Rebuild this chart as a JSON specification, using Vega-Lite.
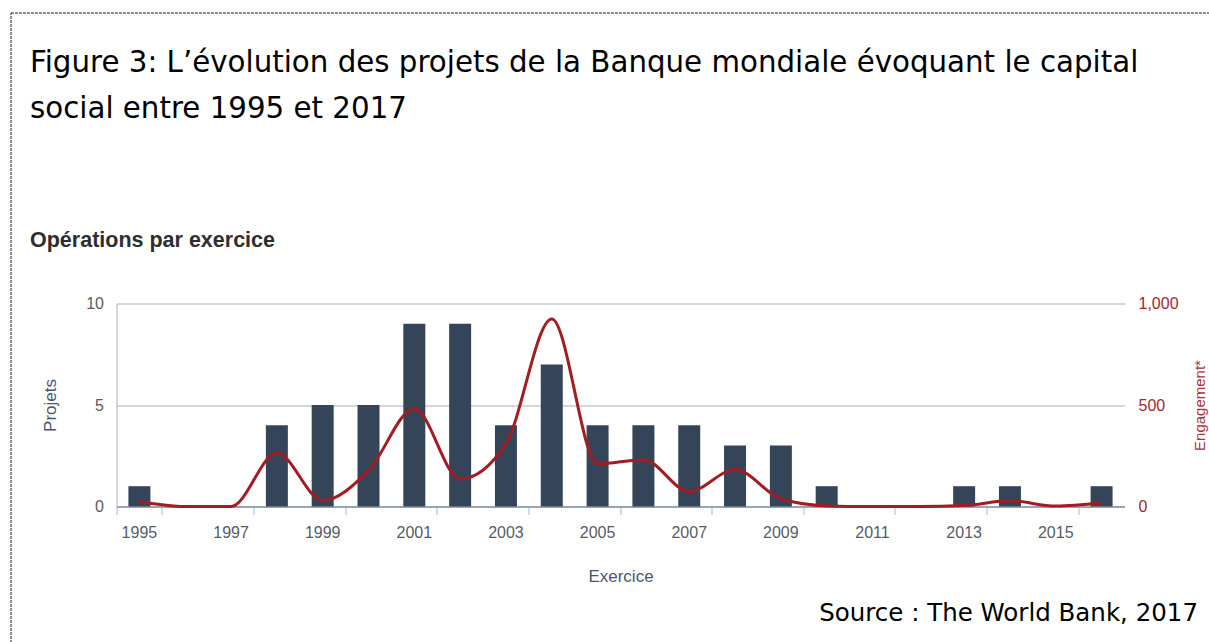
{
  "$schema": "https://vega.github.io/schema/vega-lite/v6.json",
  "autosize": {"type": "none"},
  "padding": {"left": 10.5, "top": 12.5, "right": 0, "bottom": 0},
  "width": 1215,
  "height": 650,
  "background": "#ffffff",
  "title": {
    "text": ["Figure 3: L’évolution des projets de la Banque mondiale évoquant le capital", "social entre 1995 et 2017"],
    "subtitle": "Opérations par exercice",
    "anchor": "start",
    "frame": "group",
    "orient": "top",
    "offset": -238.5,
    "dx": 19.5,
    "font": "DejaVu Sans",
    "fontSize": 29.3,
    "fontWeight": "normal",
    "color": "#000000",
    "lineHeight": 46,
    "subtitleFont": "Liberation Sans",
    "subtitleFontSize": 21.5,
    "subtitleFontWeight": "bold",
    "subtitleColor": "#2e2e2e",
    "subtitlePadding": 105
  },
  "data": {
    "values": [
      {"annee": 1995, "projets": 1, "engagement": 25},
      {"annee": 1996, "projets": 0, "engagement": 0},
      {"annee": 1997, "projets": 0, "engagement": 0},
      {"annee": 1998, "projets": 4, "engagement": 263},
      {"annee": 1999, "projets": 5, "engagement": 30},
      {"annee": 2000, "projets": 5, "engagement": 177},
      {"annee": 2001, "projets": 9, "engagement": 481},
      {"annee": 2002, "projets": 9, "engagement": 136},
      {"annee": 2003, "projets": 4, "engagement": 310},
      {"annee": 2004, "projets": 7, "engagement": 924},
      {"annee": 2005, "projets": 4, "engagement": 210},
      {"annee": 2006, "projets": 4, "engagement": 230},
      {"annee": 2007, "projets": 4, "engagement": 74},
      {"annee": 2008, "projets": 3, "engagement": 182},
      {"annee": 2009, "projets": 3, "engagement": 38},
      {"annee": 2010, "projets": 1, "engagement": 3},
      {"annee": 2011, "projets": 0, "engagement": 0},
      {"annee": 2012, "projets": 0, "engagement": 0},
      {"annee": 2013, "projets": 1, "engagement": 5},
      {"annee": 2014, "projets": 1, "engagement": 28},
      {"annee": 2015, "projets": 0, "engagement": 2},
      {"annee": 2016, "projets": 1, "engagement": 18}
    ]
  },
  "layer": [
    {
      "mark": {"type": "bar", "color": "#34455a", "width": {"band": 0.48}},
      "encoding": {
        "x": {
          "field": "annee",
          "type": "ordinal",
          "scale": {"range": [106, 1114], "paddingInner": 0, "paddingOuter": 0},
          "axis": {
            "orient": "bottom",
            "offset": -156,
            "values": [1995, 1997, 1999, 2001, 2003, 2005, 2007, 2009, 2011, 2013, 2015],
            "bandPosition": 1,
            "tickExtra": true,
            "grid": false,
            "domainColor": "#8395aa",
            "domainWidth": 1.5,
            "ticks": true,
            "tickColor": "#c0d0e0",
            "tickWidth": 1.5,
            "tickSize": 8,
            "labelFont": "Liberation Sans",
            "labelFontSize": 16,
            "labelColor": "#555c66",
            "labelPadding": 10,
            "labelAngle": 0,
            "labelOverlap": false,
            "title": "Exercice",
            "titleFont": "Liberation Sans",
            "titleFontSize": 17,
            "titleFontWeight": "normal",
            "titleColor": "#4a5670",
            "titleBaseline": "alphabetic",
            "titleY": 75
          }
        },
        "y": {
          "field": "projets",
          "type": "quantitative",
          "scale": {"domain": [0, 10], "range": [494, 291], "nice": false},
          "axis": {
            "orient": "left",
            "offset": -106,
            "values": [0, 5, 10],
            "grid": true,
            "gridColor": "#c8c8c8",
            "gridWidth": 1.5,
            "domain": true,
            "domainColor": "#c8c8c8",
            "domainWidth": 1.5,
            "ticks": false,
            "labelFont": "Liberation Sans",
            "labelFontSize": 16,
            "labelColor": "#5a5a5a",
            "labelPadding": 13,
            "title": "Projets",
            "titleFont": "Liberation Sans",
            "titleFontSize": 17,
            "titleFontWeight": "normal",
            "titleColor": "#4a5670",
            "titleAngle": 270,
            "titleAlign": "center",
            "titleBaseline": "alphabetic",
            "titleX": -61.5,
            "titleY": 392.5
          }
        }
      }
    },
    {
      "mark": {"type": "line", "interpolate": "monotone", "color": "#a31c22", "strokeWidth": 3},
      "encoding": {
        "x": {
          "field": "annee",
          "type": "ordinal",
          "axis": {
            "orient": "bottom",
            "offset": -156,
            "labels": false,
            "ticks": false,
            "domain": false,
            "grid": false,
            "title": "Source : The World Bank, 2017",
            "titleFont": "DejaVu Sans",
            "titleFontSize": 24.5,
            "titleFontWeight": "normal",
            "titleColor": "#000000",
            "titleAlign": "right",
            "titleBaseline": "alphabetic",
            "titleX": 1187,
            "titleY": 113.5
          }
        },
        "y": {
          "field": "engagement",
          "type": "quantitative",
          "scale": {"domain": [0, 1000], "range": [494, 291], "nice": false},
          "axis": {
            "orient": "right",
            "offset": -101,
            "values": [0, 500, 1000],
            "format": ",d",
            "grid": false,
            "domain": false,
            "ticks": false,
            "labelFont": "Liberation Sans",
            "labelFontSize": 16,
            "labelColor": "#a8262b",
            "labelPadding": 13.5,
            "title": "Engagement*",
            "titleFont": "Liberation Sans",
            "titleFontSize": 15,
            "titleFontWeight": "normal",
            "titleColor": "#b0303a",
            "titleAngle": 270,
            "titleAlign": "center",
            "titleBaseline": "top",
            "titleX": 68,
            "titleY": 392.5
          }
        }
      }
    }
  ],
  "resolve": {
    "scale": {"y": "independent"},
    "axis": {"x": "independent", "y": "independent"}
  },
  "config": {
    "view": {"stroke": "#222222", "strokeDash": [3, 1], "strokeWidth": 1},
    "font": "Liberation Sans"
  }
}
